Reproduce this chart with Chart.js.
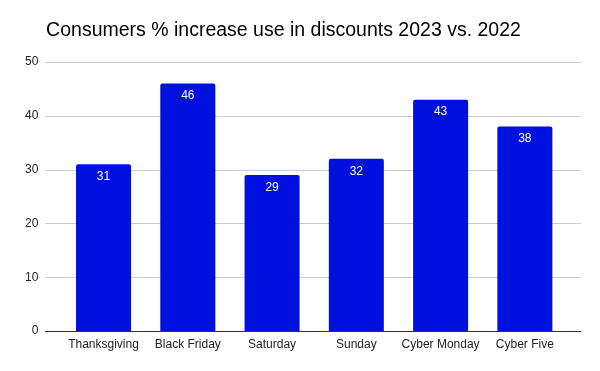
<!DOCTYPE html>
<html>
<head>
<meta charset="utf-8">
<script src="https://cdn.jsdelivr.net/npm/chart.js@4"></script>
<style>
  html, body { margin: 0; padding: 0; background: #fff; }
  #wrap { width: 600px; height: 371px; }
</style>
</head>
<body>
<div id="wrap"><canvas id="chart" width="600" height="371"></canvas></div>
<script>
var categories = ["Thanksgiving", "Black Friday", "Saturday", "Sunday", "Cyber Monday", "Cyber Five"];
var values = [31, 46, 29, 32, 43, 38];
var yTicks = [0, 10, 20, 30, 40, 50];

var FONT = "'Liberation Sans', Arial, sans-serif";

// gridlines in sheets run wider than the bar area, so draw them by hand
var gridPlugin = {
  id: "wideGrid",
  beforeDatasetsDraw: function (chart) {
    var ctx = chart.ctx;
    var y = chart.scales.y;
    ctx.save();
    for (var i = 0; i < yTicks.length; i++) {
      var py = Math.round(y.getPixelForValue(yTicks[i])) + 0.5;
      ctx.strokeStyle = yTicks[i] === 0 ? "#333333" : "#cccccc";
      ctx.lineWidth = 1;
      ctx.beginPath();
      ctx.moveTo(45, py);
      ctx.lineTo(581, py);
      ctx.stroke();
    }
    ctx.restore();
  }
};

var labelPlugin = {
  id: "barLabels",
  afterDatasetsDraw: function (chart) {
    var ctx = chart.ctx;
    var meta = chart.getDatasetMeta(0);
    ctx.save();
    ctx.fillStyle = "#ffffff";
    ctx.font = "12px " + FONT;
    ctx.textAlign = "center";
    ctx.textBaseline = "middle";
    for (var i = 0; i < meta.data.length; i++) {
      var bar = meta.data[i];
      ctx.fillText(String(values[i]), bar.x, bar.y + 12.5);
    }
    ctx.restore();
  }
};

new Chart(document.getElementById("chart").getContext("2d"), {
  type: "bar",
  data: {
    labels: categories,
    datasets: [{
      data: values,
      backgroundColor: "#0010de",
      borderRadius: { topLeft: 2, topRight: 2 },
      borderSkipped: "bottom",
      barPercentage: 0.653,
      categoryPercentage: 1
    }]
  },
  options: {
    responsive: false,
    animation: false,
    layout: { padding: { left: 0, right: 33, top: 0, bottom: 0 } },
    plugins: {
      legend: { display: false },
      tooltip: { enabled: false },
      title: {
        display: true,
        text: "Consumers % increase use in discounts 2023 vs. 2022",
        color: "#000000",
        font: { family: FONT, size: 19.5, weight: "normal" },
        padding: { top: 19, bottom: 19.6 }
      }
    },
    scales: {
      x: {
        grid: { display: false, drawTicks: false },
        border: { display: false },
        ticks: {
          color: "#222222",
          font: { family: FONT, size: 12 },
          padding: 6,
          maxRotation: 0
        },
        afterFit: function (scale) { scale.height = 40; }
      },
      y: {
        min: 0,
        max: 50,
        grid: { display: false, drawTicks: false },
        border: { display: false },
        ticks: {
          stepSize: 10,
          color: "#222222",
          font: { family: FONT, size: 12 },
          padding: 23
        },
        afterFit: function (scale) { scale.width = 61.4; }
      }
    }
  },
  plugins: [gridPlugin, labelPlugin]
});
</script>
</body>
</html>
